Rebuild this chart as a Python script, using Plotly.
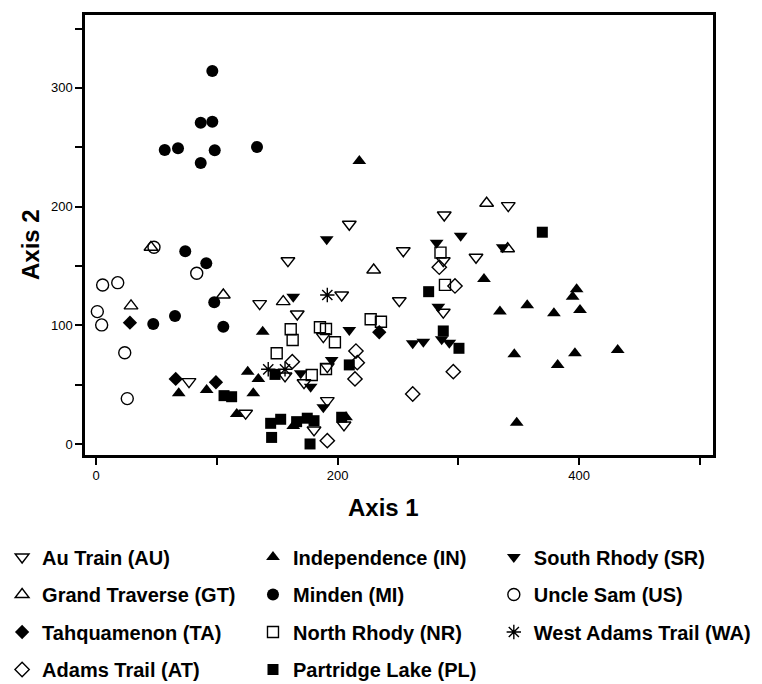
import plotly.graph_objects as go

# Ordination scores (Axis 1, Axis 2) per site
au_x = [135.5, 77, 123.9, 209.7, 254.4, 158.9, 166.6, 203.4, 251.1, 188.2, 191.5,
        156.5, 172.2, 191.5, 180.5, 205.3, 288.3, 287.5, 314.6, 341.3, 287.5]
au_y = [118.2, 52.5, 25.9, 185.1, 162.8, 154.4, 109.5, 125.5, 120.7, 90.4, 65.1,
        57.3, 51.6, 36.5, 11.8, 16, 192.9, 154.4, 157.3, 200.8, 111]

gt_x = [45.5, 29, 105.4, 155, 229.9, 323.4, 340.8]
gt_y = [165.7, 116.3, 125.5, 119.9, 146.6, 202.8, 164.5]

ta_x = [28.1, 66, 99.3, 234.5]
ta_y = [102.2, 54.8, 52, 94.1]

at_x = [162.5, 215.2, 216.3, 214.4, 191.5, 262.2, 284.2, 297.2, 295.8]
at_y = [69.3, 78.3, 68.5, 54.8, 2.8, 42.1, 148.9, 133.1, 60.9]

in_x = [218, 138, 68.5, 91.6, 125.6, 134.4, 130.2, 116.5, 163.3, 207, 321.2,
        397.9, 394.6, 357, 334.4, 379.1, 400.7, 346.3, 396.5, 382.2, 431.9, 348.3]
in_y = [238.4, 94.6, 42.7, 45.5, 60.9, 54.8, 42.7, 25.3, 15.2, 22.5, 139,
        130.3, 124.1, 116.8, 111.5, 110.1, 112.9, 75.6, 76.4, 66.6, 79.2, 17.9]

mi_x = [96.3, 86.7, 96.3, 56.9, 67.9, 98.3, 86.7, 133.3, 73.9, 91.3, 97.9, 65.4, 47.4, 105.4]
mi_y = [314.2, 270.7, 271.5, 247.7, 249.1, 247.4, 236.7, 250.2, 162.3, 152.2, 119.4, 107.8, 101.1, 98.8]

nr_x = [285.2, 288.9, 149.6, 161.2, 162.8, 185.4, 190.4, 197.8, 227.4, 235.9, 190.4, 178.6]
nr_y = [161.2, 134, 76.4, 96.6, 87.6, 98.3, 96.9, 85.7, 105.1, 103, 63.2, 58.1]

pl_x = [106, 112.3, 148.2, 144.6, 145.4, 152.9, 166.1, 174.9, 180.5, 177.2, 203.4,
        209.7, 275.4, 287.5, 300.5, 369.5]
pl_y = [40.7, 39.8, 58.6, 17.4, 5.5, 20.8, 18.8, 21.7, 19.6, 0, 22.5,
        66.6, 128.3, 95.2, 80.6, 178.4]

sr_x = [191, 163.3, 209.7, 262.2, 271, 195.1, 169.5, 177.7, 188.2, 301.9, 282,
        336.7, 283.4, 286.2, 292.5]
sr_y = [172.5, 124.1, 96, 84.8, 86.2, 70.8, 59.6, 48.3, 30.9, 175.5, 169.6,
        165.7, 115.7, 88.2, 85.3]

us_x = [48, 83.4, 5.5, 18, 1.1, 4.7, 23.8, 25.9]
us_y = [165.7, 143.8, 133.9, 135.9, 111.5, 100.3, 76.9, 38.2]

wa_x = [142.6, 156.5, 191.5]
wa_y = [62.9, 62.9, 125.5]

x_ticks = [0, 100, 200, 300, 400, 500]
x_labels = ["0", "", "200", "", "400", ""]
y_ticks = [0, 50, 100, 150, 200, 250, 300, 350]
y_labels = ["0", "", "100", "", "200", "", "300", ""]

# (name, x, y, symbol, size, legend column)
series = [
    ("Au Train (AU)", au_x, au_y, "triangle-down-open", 12, "legend"),
    ("Grand Traverse (GT)", gt_x, gt_y, "triangle-up-open", 12, "legend"),
    ("Tahquamenon (TA)", ta_x, ta_y, "diamond", 11, "legend"),
    ("Adams Trail (AT)", at_x, at_y, "diamond-open", 11, "legend"),
    ("Independence (IN)", in_x, in_y, "triangle-up", 12, "legend2"),
    ("Minden (MI)", mi_x, mi_y, "circle", 12, "legend2"),
    ("North Rhody (NR)", nr_x, nr_y, "square-open", 11, "legend2"),
    ("Partridge Lake (PL)", pl_x, pl_y, "square", 11, "legend2"),
    ("South Rhody (SR)", sr_x, sr_y, "triangle-down", 12, "legend3"),
    ("Uncle Sam (US)", us_x, us_y, "circle-open", 12, "legend3"),
    ("West Adams Trail (WA)", wa_x, wa_y, "asterisk-open", 12, "legend3"),
]

fig = go.Figure()
for name, xs, ys, sym, size, leg in series:
    if sym.endswith("-open"):
        marker = dict(symbol=sym, size=size, color="black",
                      line=dict(width=1.4, color="black"))
    else:
        marker = dict(symbol=sym, size=size, color="black", line=dict(width=0))
    fig.add_trace(go.Scatter(x=xs, y=ys, mode="markers", name=name,
                             marker=marker, legend=leg, legendgroup=name))

legend_font = dict(family="Liberation Sans", size=20, color="black", weight="bold")
common_leg = dict(orientation="v", font=legend_font, bgcolor="rgba(0,0,0,0)",
                  borderwidth=0, tracegroupgap=8.5, yanchor="top",
                  xanchor="left", itemclick=False, itemdoubleclick=False)

fig.update_layout(
    width=762, height=684,
    margin=dict(l=85, r=49, t=15, b=229, autoexpand=False),
    paper_bgcolor="white", plot_bgcolor="white",
    font=dict(family="Liberation Sans", color="black"),
    xaxis=dict(range=[-9.1, 510.8], tickmode="array", tickvals=x_ticks,
               ticktext=x_labels, ticks="outside", ticklen=7, tickwidth=2,
               tickcolor="black", showline=True, linewidth=2.5, linecolor="black",
               mirror=True, showgrid=False, zeroline=False,
               tickfont=dict(size=13, color="black")),
    yaxis=dict(range=[-9.3, 361.4], tickmode="array", tickvals=y_ticks,
               ticktext=y_labels, ticks="outside", ticklen=7, tickwidth=2,
               tickcolor="black", showline=True, linewidth=2.5, linecolor="black",
               mirror=True, showgrid=False, zeroline=False,
               tickfont=dict(size=13, color="black")),
    legend=dict(x=-0.132, y=-0.1875, **common_leg),
    legend2=dict(x=0.2675, y=-0.1875, **common_leg),
    legend3=dict(x=0.651, y=-0.1875, **common_leg),
    annotations=[
        dict(text="<b>Axis 1</b>", xref="paper", yref="paper",
             x=(383 - 85) / 628, y=(455 - 508) / 440, xanchor="center",
             yanchor="middle", showarrow=False,
             font=dict(family="Liberation Sans", size=24, color="black")),
        dict(text="<b>Axis 2</b>", xref="paper", yref="paper",
             x=(30 - 85) / 628, y=(455 - 245) / 440, xanchor="center",
             yanchor="middle", showarrow=False, textangle=-90,
             font=dict(family="Liberation Sans", size=24, color="black")),
    ],
)

fig.write_html("out.html")
